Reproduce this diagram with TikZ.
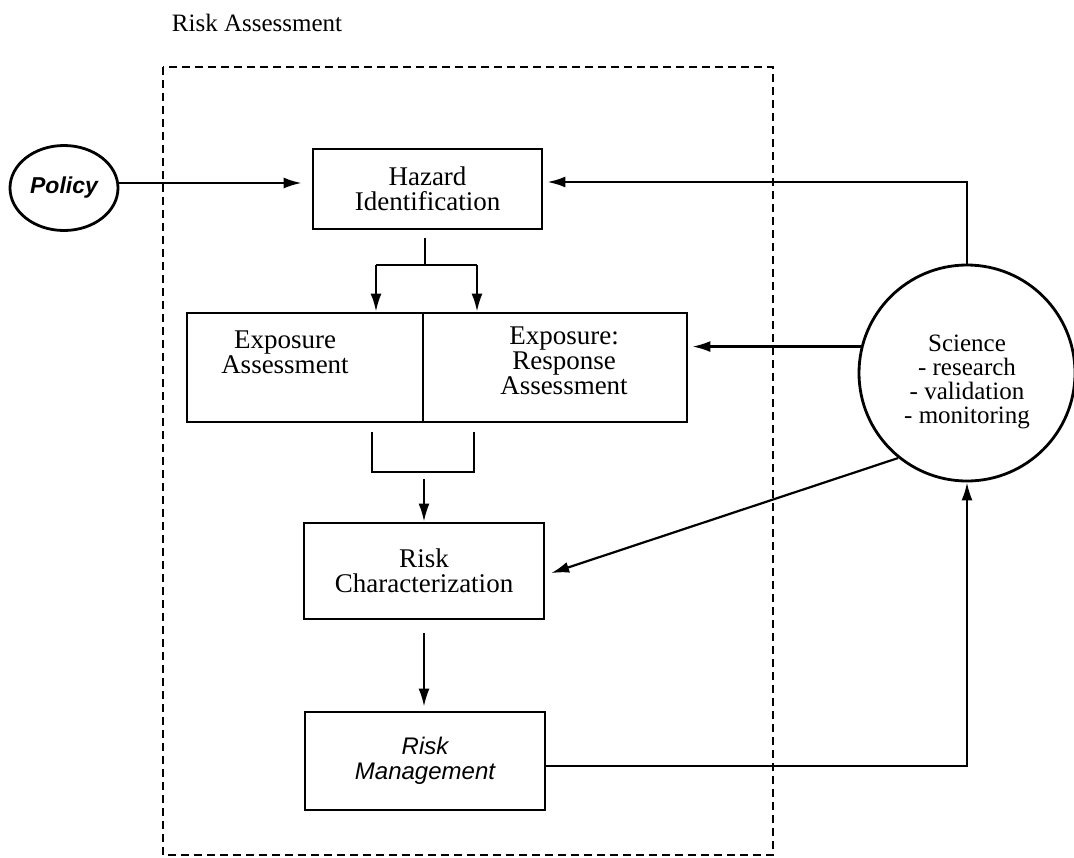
\documentclass[tikz,border=0pt]{standalone}
\usepackage{fontspec}
\setmainfont{Liberation Serif}
\setsansfont{Liberation Sans}
\usepackage{tikz}
\usetikzlibrary{calc,arrows.meta,shapes.geometric}
\tikzset{
  box/.style={draw, rectangle, line width=1.4pt, inner sep=0pt, align=center, font=\fontsize{13.5}{12.5}\selectfont},
  con/.style={line width=1.1pt},
  arr/.style={con, -{Latex[length=9pt,width=5.5pt]}},
  frame/.style={line width=1.4pt, dash pattern=on 4pt off 2.5pt},
  lab/.style={align=center, inner sep=0pt, font=\fontsize{13.5}{12.5}\selectfont},
}

\begin{document}
\begin{tikzpicture}[x=0.5pt, y=-0.5pt]
  \useasboundingbox (0,0) rectangle (1074,857);
  \node[lab, font=\fontsize{12.5}{14}\selectfont] (title) at (257,23) {Risk Assessment};
  \draw[frame] (163,67) rectangle (773,855);

  \node[draw, ellipse, line width=1.4pt, minimum width=54pt, minimum height=42.5pt, inner sep=0pt,
        font=\sffamily\bfseries\itshape\fontsize{11.5}{12}\selectfont] (pol) at (64,188) {Policy};
  \node[box, minimum width=114.5pt, minimum height=40pt] (haz) at (427.5,189) {Hazard\\Identification};
  \node[box, minimum width=118pt, minimum height=54.5pt] (expa) at (305,367.5) {};
  \node[box, minimum width=132pt, minimum height=54.5pt] (expr) at (555,367.5) {};
  \node[lab] (expatxt) at (285,352) {Exposure\\Assessment};
  \node[lab] (exprtxt) at (564,361) {Exposure:\\Response\\Assessment};
  \node[box, minimum width=120pt, minimum height=48pt] (rc) at (424,571) {Risk\\Characterization};
  \node[box, minimum width=120pt, minimum height=49pt, font=\sffamily\itshape\fontsize{12}{12.5}\selectfont] (rm) at (425,761) {Risk\\Management};
  \node[draw, circle, line width=1.4pt, minimum size=108pt, inner sep=0pt] (sci) at (967,373) {};
  \node[lab, font=\fontsize{12.5}{12}\selectfont] (scitxt) at (967,382) {Science\\- research\\- validation\\- monitoring};

  \coordinate (hs) at (425,265);
  \coordinate (hl) at (376,265);
  \coordinate (hr) at (477,265);
  \coordinate (bl) at (372,432);
  \coordinate (br) at (474,432);
  \coordinate (bm) at (424,479);

  \draw[arr, shorten >=5pt] ([yshift=2.5pt]pol.east) -- ([yshift=2.5pt]pol.east -| haz.west);
  \draw[arr, shorten >=2pt] (sci.north) |- ([yshift=3.5pt]haz.east);
  \draw[con] ([yshift=-4pt]hs |- haz.south) -- (hs);
  \draw[con] (hl) -- (hr);
  \draw[arr] (hl) -- (hl |- expa.north);
  \draw[arr] (hr) -- (hr |- expr.north);
  \draw[con] (bl) -- (bl |- 0,472) -- (br |- 0,472) -- (br);
  \draw[arr] (bm) -- (bm |- rc.north);
  \draw[arr, shorten >=2pt] ([yshift=-6.5pt]rc.south) -- (rc.south |- rm.north);
  \draw[arr, shorten >=2pt] (sci.166) -- (sci.166 -| expr.east);
  \draw[arr, shorten >=3pt] (sci.231) -- ([yshift=-2pt]rc.east);
  \draw[arr] ([yshift=-2.5pt]rm.east) -| (sci.south);
\end{tikzpicture}
\end{document}
